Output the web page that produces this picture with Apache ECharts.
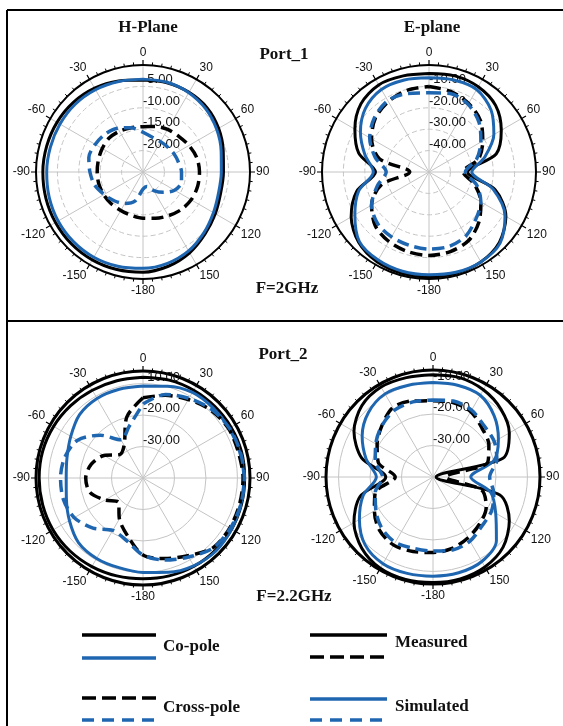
<!DOCTYPE html>
<html>
<head>
<meta charset="utf-8">
<script src="https://cdn.jsdelivr.net/npm/echarts@6/dist/echarts.min.js"></script>
<style>
  html, body { margin: 0; padding: 0; background: #fff; }
  #chart { width: 563px; height: 726px; }
</style>
</head>
<body>
<div id="chart"></div>
<script>
// angle grid (deg, clockwise from top)
const angles = [0, 15, 30, 45, 60, 75, 90, 105, 120, 135, 150, 165, 180,
  195, 210, 225, 240, 255, 270, 285, 300, 315, 330, 345, 360];

// Port_1, H-plane (dB)
const p1H_coMeas = [-3.5, -3.4, -3.5, -3.8, -4.6, -5.6, -6.2, -6.2, -5.5, -4.5, -3.2, -2.2, -1.6,
  -1.4, -1.3, -1.3, -1.4, -1.5, -1.6, -1.7, -1.8, -2.0, -2.4, -3.0, -3.5];
const p1H_coSim = [-3.3, -3.3, -3.6, -4.2, -5.1, -6.1, -6.7, -6.7, -6.0, -4.9, -3.7, -2.9, -2.5,
  -2.2, -2.0, -2.0, -2.1, -2.3, -2.5, -2.6, -2.6, -2.6, -2.8, -3.1, -3.3];
const p1H_xMeas = [-14.4, -14.0, -13.5, -13.2, -12.6, -12.0, -11.8, -11.8, -12.0, -12.5, -13.2, -13.8, -14.2,
  -14.5, -14.6, -14.5, -14.4, -14.3, -14.3, -14.2, -14.0, -13.8, -14.0, -14.3, -14.4];
const p1H_xSim = [-15.7, -16.6, -16.8, -16.8, -16.6, -16.4, -16.0, -15.7, -16.5, -18.3, -20.0, -21.5, -21.0,
  -18.0, -16.5, -15.5, -14.5, -13.3, -12.6, -11.9, -12.1, -12.5, -13.2, -14.3, -15.7];

// Port_1, E-plane (dB)
const p1E_coMeas = [-4, -3.5, -4, -6, -11, -17.5, -32, -18, -8.5, -3.5, -1.5, -1, -1,
  -1, -1.5, -3.5, -8, -15, -25, -16, -10, -5, -3, -3.5, -4];
const p1E_coSim = [-6, -5.5, -5.5, -9, -15, -23, -30, -19, -9, -3, -1.5, -1.5, -2,
  -2, -2.5, -4, -10, -16, -24, -19, -13, -8, -5.5, -5.5, -6];
const p1E_xMeas = [-10, -11, -13, -16, -21, -26, -34, -28, -22, -17, -13, -11.5, -11,
  -11.5, -12.5, -14.5, -19, -27, -41, -26, -19, -14.5, -12, -10.5, -10];
const p1E_xSim = [-13, -12, -13.5, -17, -22, -27, -33, -27, -22, -19, -15.5, -14, -14,
  -14.5, -15, -16, -19, -25, -30, -24, -18, -14, -11.5, -12, -13];

// Port_2, H-plane (dB)
const p2H_coMeas = [-8, -7.8, -7.8, -7.8, -7.7, -7.6, -7.7, -7.6, -7.5, -7.5, -7.6, -7.8, -8,
  -7.8, -7.5, -7.2, -7, -7, -7, -7, -7.2, -7.5, -7.8, -8, -8];
const p2H_coSim = [-10.8, -9.8, -8.6, -8.5, -8.4, -8.2, -8, -7.8, -7.5, -7.2, -7.8, -9, -10,
  -10.5, -10.5, -11, -13, -14.8, -15.6, -15, -13.5, -11.5, -10.8, -10.8, -10.8];
const p2H_xMeas = [-14.5, -12.8, -11.2, -9.5, -8.6, -8.6, -8.2, -8.2, -8.2, -8.6, -11.5, -13.5, -15.5,
  -21, -25, -29, -26, -22.5, -21.8, -23, -25.7, -29.5, -28, -20, -14.5];
const p2H_xSim = [-16.5, -12.5, -10.8, -9.2, -8.3, -8, -7.8, -7.8, -8, -8.5, -11, -13, -15.5,
  -19.5, -20.8, -17.5, -14.8, -13.8, -13.8, -14.3, -16, -20.8, -26, -23, -16.5];

// Port_2, E-plane (dB)
const p2E_coMeas = [-7.5, -7.3, -8, -9.5, -12, -17, -39, -18, -12, -8.5, -7, -6.5, -6.5,
  -6.3, -6.5, -8, -11, -16, -25, -16.5, -11, -8, -7, -7.3, -7.5];
const p2E_coSim = [-10, -9.8, -10, -12.5, -16, -20, -28, -21, -17, -11.5, -9, -8.5, -8.5,
  -8.3, -8.2, -9.5, -13, -17, -22, -18, -14, -11, -9.5, -9.8, -10];
const p2E_xMeas = [-15.8, -15.5, -16, -18, -19.5, -22, -36, -24, -20.5, -19, -17.7, -16.5, -16,
  -15.5, -15, -16, -18.5, -21, -28, -22, -19.5, -17, -14.5, -15, -15.8];
const p2E_xSim = [-15.5, -15, -15.5, -17, -17.5, -19, -22, -20, -18.5, -18, -16.5, -16, -16.5,
  -16.5, -16, -17, -19, -21, -24, -21, -19, -17, -15.5, -15.3, -15.5];

// radial ranges (dB) per plot
const rMin = [-25, -50, -40, -40];
const rMax = [0, 0, -6, -6];
const rStep = [5, 10, 10, 10];

const BLUE = '#1f66b1';
const chart = echarts.init(document.getElementById('chart'));

const centers = [[143, 172], [429, 172], [143, 478], [433, 477]];
const polar = centers.map(c => ({ center: c, radius: 107 }));

const angleAxis = centers.map((c, i) => ({
  polarIndex: i,
  type: 'value',
  min: 0,
  max: 360,
  interval: 30,
  startAngle: 90,
  clockwise: true,
  axisLine: { lineStyle: { color: '#000', width: i < 2 ? 2 : 3 } },
  axisTick: { show: true, length: 5, lineStyle: { color: '#000', width: 1.2 } },
  minorTick: { show: true, splitNumber: 6, length: 3, lineStyle: { color: '#000', width: 1 } },
  splitLine: { show: true, lineStyle: { color: '#c4c4c4', width: 1 } },
  axisLabel: {
    margin: 6,
    color: '#111',
    fontSize: 12,
    fontFamily: 'Liberation Sans',
    formatter: v => (v >= 180 ? v - 360 : v) + ''
  }
}));

const radiusAxis = centers.map((c, i) => ({
  polarIndex: i,
  type: 'value',
  min: rMin[i],
  max: rMax[i],
  interval: rStep[i],
  axisLine: { show: false },
  axisTick: { show: false },
  splitLine: { show: true, lineStyle: { color: '#c4c4c4', width: 1, type: i < 2 ? [5, 3] : 'solid' } },
  axisLabel: {
    showMinLabel: false,
    showMaxLabel: false,
    margin: 0,
    align: 'left',
    verticalAlign: 'bottom',
    color: '#111',
    fontSize: 13,
    fontFamily: 'Liberation Sans',
    formatter: v => (v % rStep[i] === 0 ? v.toFixed(2) : '')
  }
}));

function mk(vals, idx, color, dashed) {
  return {
    type: 'line',
    coordinateSystem: 'polar',
    polarIndex: idx,
    data: vals.map((v, k) => [v, angles[k]]),
    smooth: 0.3,
    showSymbol: false,
    silent: true,
    lineStyle: { color: color, width: dashed ? 3.5 : 3, type: dashed ? [12, 6] : 'solid' }
  };
}

const series = [
  mk(p1H_coMeas, 0, '#000', false), mk(p1H_coSim, 0, BLUE, false),
  mk(p1H_xMeas, 0, '#000', true), mk(p1H_xSim, 0, BLUE, true),
  mk(p1E_coMeas, 1, '#000', false), mk(p1E_coSim, 1, BLUE, false),
  mk(p1E_xMeas, 1, '#000', true), mk(p1E_xSim, 1, BLUE, true),
  mk(p2H_coMeas, 2, '#000', false), mk(p2H_coSim, 2, BLUE, false),
  mk(p2H_xMeas, 2, '#000', true), mk(p2H_xSim, 2, BLUE, true),
  mk(p2E_coMeas, 3, '#000', false), mk(p2E_coSim, 3, BLUE, false),
  mk(p2E_xMeas, 3, '#000', true), mk(p2E_xSim, 3, BLUE, true)
];

const serif = 'bold 17px "Liberation Serif"';
function txt(s, x, y, align) {
  return { type: 'text', style: { text: s, x: x, y: y, font: serif, fill: '#111', align: align || 'center', verticalAlign: 'middle' } };
}
function seg(x1, y1, x2, y2, color, dash, w) {
  return { type: 'line', shape: { x1, y1, x2, y2 }, style: { stroke: color, lineWidth: w || 1, lineDash: dash || null } };
}

const graphic = [
  // frame
  seg(7, 10, 563, 10, '#000', null, 2),
  seg(7, 10, 7, 726, '#000', null, 2),
  seg(7, 321, 563, 321, '#000', null, 2),
  txt('H-Plane', 148, 28),
  txt('E-plane', 432, 28),
  txt('Port_1', 284, 55),
  txt('F=2GHz', 287, 289),
  txt('Port_2', 283, 355),
  txt('F=2.2GHz', 294, 597),
  // legend
  seg(82, 635, 156, 635, '#000', null, 3.5),
  seg(82, 658, 156, 658, BLUE, null, 3.5),
  txt('Co-pole', 163, 647, 'left'),
  seg(310, 635, 387, 635, '#000', null, 3.5),
  seg(310, 657, 387, 657, '#000', [14, 6], 3.5),
  txt('Measured', 395, 643, 'left'),
  seg(82, 698, 156, 698, '#000', [14, 6], 3.5),
  seg(82, 720, 156, 720, BLUE, [12, 8], 3.5),
  txt('Cross-pole', 163, 708, 'left'),
  seg(310, 699, 387, 699, BLUE, null, 3.5),
  seg(310, 720, 387, 720, BLUE, [12, 8], 3.5),
  txt('Simulated', 395, 707, 'left')
];

chart.setOption({
  animation: false,
  polar: polar,
  angleAxis: angleAxis,
  radiusAxis: radiusAxis,
  series: series,
  graphic: graphic
});
</script>
</body>
</html>
